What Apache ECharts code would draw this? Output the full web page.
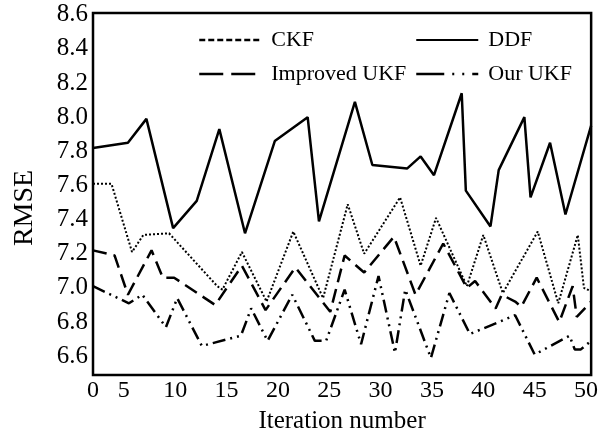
<!DOCTYPE html>
<html>
<head>
<meta charset="utf-8">
<script src="https://cdn.jsdelivr.net/npm/echarts@6/dist/echarts.min.js"></script>
<style>
    html, body { margin: 0; padding: 0; background: #fff; }
    #echart-box { width: 601px; height: 439px; }
</style>
</head>
<body>
<div id="echart-box"></div>
<script>
// tick labels
const xTickValues = [2, 5, 10, 15, 20, 25, 30, 35, 40, 45, 50];
const xTickLabels = ["0", "5", "10", "15", "20", "25", "30", "35", "40", "45", "50"];
const yTickValues = [6.6, 6.8, 7.0, 7.2, 7.4, 7.6, 7.8, 8.0, 8.2, 8.4, 8.6];

// CKF
const ckfX = [2, 3.8, 5.8, 6.9, 9.4, 14.1, 14.6, 16.5, 18.9, 21.5, 24.4, 26.8, 28.4, 31.9, 33.9, 35.4, 38.4, 40.0, 41.9, 45.3, 47.3, 49.2, 49.8, 50.5];
const ckfY = [7.61, 7.61, 7.21, 7.31, 7.32, 7.01, 6.99, 7.21, 6.92, 7.33, 6.94, 7.49, 7.20, 7.53, 7.13, 7.41, 7.01, 7.31, 6.97, 7.33, 6.91, 7.31, 7.00, 6.98];

// DDF
const ddfX = [2, 5.4, 7.2, 9.8, 12.1, 14.3, 16.8, 19.7, 22.9, 24.0, 27.5, 29.2, 32.6, 33.9, 35.2, 37.9, 38.3, 40.7, 41.5, 44.0, 44.6, 46.5, 48.0, 50.5];
const ddfY = [7.82, 7.85, 7.99, 7.35, 7.51, 7.93, 7.32, 7.86, 8.00, 7.39, 8.09, 7.72, 7.70, 7.77, 7.66, 8.14, 7.57, 7.36, 7.69, 8.00, 7.53, 7.85, 7.43, 7.95];

// Improved UKF
const impX = [2, 4.1, 5.4, 7.7, 8.8, 9.9, 13.9, 16.5, 18.8, 21.7, 25.1, 26.5, 28.4, 31.3, 33.4, 36.1, 38.4, 39.2, 41.2, 41.8, 43.1, 43.7, 45.2, 47.4, 48.7, 49.1, 50.5];
const impY = [7.22, 7.19, 6.96, 7.22, 7.06, 7.06, 6.90, 7.13, 6.87, 7.12, 6.86, 7.19, 7.09, 7.30, 6.96, 7.26, 7.00, 7.04, 6.88, 6.96, 6.92, 6.89, 7.06, 6.80, 7.01, 6.83, 6.92];

// Our UKF
const ourX = [2, 5.5, 6.8, 9.1, 10.2, 12.6, 16.4, 17.4, 19.0, 21.4, 23.6, 24.7, 26.5, 28.1, 29.8, 31.4, 32.4, 34.9, 36.7, 38.7, 43.1, 45.0, 48.4, 48.9, 49.5, 50.5];
const ourY = [7.01, 6.91, 6.96, 6.77, 6.94, 6.66, 6.72, 6.88, 6.69, 6.96, 6.69, 6.69, 6.99, 6.67, 7.07, 6.62, 6.99, 6.59, 6.97, 6.73, 6.84, 6.61, 6.72, 6.64, 6.64, 6.69];

function pairs(xs, ys){
    return xs.map(function(x, i){ return [x, ys[i]]; });
}

function init(){
    const element = document.getElementById("echart-box");
    const instance = echarts.init(element, null, { renderer: "canvas" });

    const font = "'Liberation Serif', 'Times New Roman', serif";

    const legendText = { fontFamily: font, fontSize: 22, color: "#000", lineHeight: 22, padding: [0, 0, 0, 5] };

    let option = {
        animation: false,
        backgroundColor: "#fff",
        color: ["#000", "#000", "#000", "#000"],
        grid: {
            left: 93, top: 13, right: 6, bottom: 61,
            show: true,
            borderColor: "#000",
            borderWidth: 2.5
        },
        legend: [
            {
                orient: "vertical",
                left: 198, top: 29, padding: 0,
                itemWidth: 62, itemHeight: 14, itemGap: 12,
                itemStyle: { opacity: 0 },
                textStyle: legendText,
                data: [
                    { name: "CKF", lineStyle: { type: [6, 3], width: 2.5 } },
                    { name: "Improved UKF", lineStyle: { type: [24, 8], width: 2.5 } }
                ]
            },
            {
                orient: "vertical",
                left: 415, top: 29, padding: 0,
                itemWidth: 62, itemHeight: 14, itemGap: 12,
                itemStyle: { opacity: 0 },
                textStyle: legendText,
                data: [
                    { name: "DDF" },
                    { name: "Our UKF", lineStyle: { type: [28, 8, 2, 8, 2, 8], width: 2.5 } }
                ]
            }
        ],
        xAxis: {
            type: "value",
            min: 2,
            max: 50.5,
            name: "Iteration number",
            nameLocation: "middle",
            nameGap: 34,
            nameTextStyle: { fontFamily: font, fontSize: 25, color: "#000" },
            axisLine: { show: false },
            axisTick: { show: false },
            splitLine: { show: false },
            axisLabel: {
                customValues: xTickValues,
                margin: 4,
                fontFamily: font, fontSize: 24, color: "#000",
                formatter: function(v){
                    const i = xTickValues.indexOf(v);
                    return i >= 0 ? xTickLabels[i] : "";
                }
            }
        },
        yAxis: {
            type: "value",
            min: 6.49,
            max: 8.61,
            name: "RMSE",
            nameLocation: "middle",
            nameGap: 54,
            nameTextStyle: { fontFamily: font, fontSize: 28, color: "#000", padding: [0, 28, 0, 0] },
            axisLine: { show: false },
            axisTick: { show: false },
            splitLine: { show: false },
            axisLabel: {
                customValues: yTickValues,
                margin: 5,
                fontFamily: font, fontSize: 25, color: "#000",
                formatter: function(v){ return v.toFixed(1); }
            }
        },
        series: [
            {
                name: "CKF", type: "line", symbol: "none",
                data: pairs(ckfX, ckfY),
                lineStyle: { color: "#000", width: 2, type: [2, 2] }
            },
            {
                name: "DDF", type: "line", symbol: "none",
                data: pairs(ddfX, ddfY),
                lineStyle: { color: "#000", width: 2.5, type: "solid" }
            },
            {
                name: "Improved UKF", type: "line", symbol: "none",
                data: pairs(impX, impY),
                lineStyle: { color: "#000", width: 2.5, type: [14, 7] }
            },
            {
                name: "Our UKF", type: "line", symbol: "none",
                data: pairs(ourX, ourY),
                lineStyle: { color: "#000", width: 2.5, type: [13, 5, 2, 5, 2, 5] }
            }
        ]
    };

    instance && instance.setOption(option);
}

init();
</script>
</body>
</html>
